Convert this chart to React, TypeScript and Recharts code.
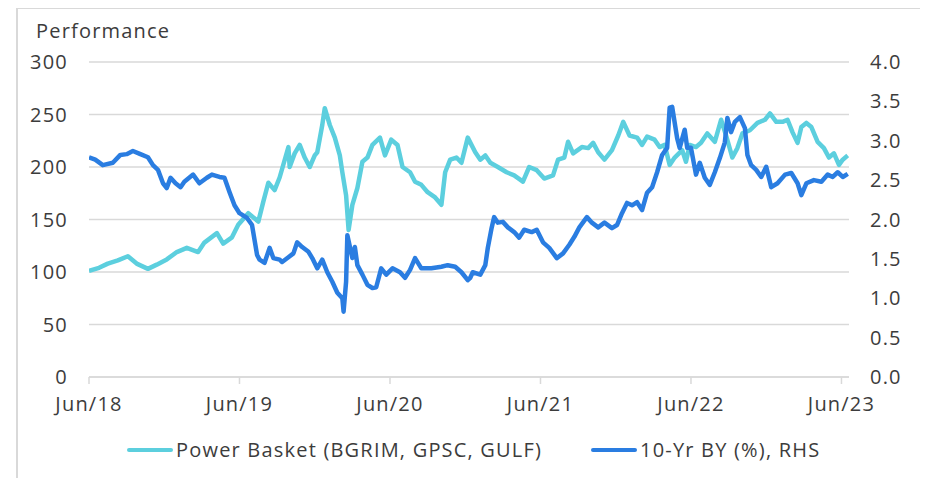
import { LineChart, Line, XAxis, YAxis, CartesianGrid } from "recharts";

// x positions are months since Jun-2018
const tickMonths = [0, 12, 24, 36, 48, 60];
const tickLabels = ["Jun/18", "Jun/19", "Jun/20", "Jun/21", "Jun/22", "Jun/23"];
const leftTicks = [0, 50, 100, 150, 200, 250, 300];
const rightTicks = [0, 0.5, 1, 1.5, 2, 2.5, 3, 3.5, 4];

const basketMonths = [
  0, 0.8, 1.5, 2.3, 3.1, 3.8, 4.7, 5.4, 6.2, 7.0, 7.8, 8.7, 9.2, 10.2, 10.7, 11.4, 11.9,
  12.7, 13.5, 13.9, 14.3, 14.8, 15.2, 15.9, 16.0, 16.4, 16.8, 17.2, 17.6, 18.0, 18.2,
  18.6, 18.8, 19.2, 19.6, 20.0, 20.2, 20.5, 20.7, 21.0, 21.4, 21.8, 22.2, 22.6, 23.2,
  23.6, 24.1, 24.6, 25.0, 25.6, 26.0, 26.5, 27.0, 27.6, 28.1, 28.4, 28.8, 29.3, 29.7,
  30.2, 30.8, 31.2, 31.6, 32.0, 32.6, 33.3, 33.9, 34.6, 35.1, 35.7, 36.3, 37.0, 37.4,
  37.9, 38.2, 38.6, 39.3, 39.8, 40.2, 40.6, 41.1, 41.7, 42.2, 42.6, 43.1, 43.7, 44.1,
  44.5, 45.1, 45.5, 45.9, 46.3, 46.7, 47.3, 47.6, 47.9, 48.4, 48.8, 49.3, 49.9, 50.4,
  50.8, 51.3, 51.7, 52.1, 52.7, 53.3, 53.9, 54.3, 54.8, 55.3, 55.7, 56.1, 56.5, 56.8,
  57.2, 57.6, 58.1, 58.6, 59.0, 59.4, 59.8, 60.1, 60.5,
];
const basketValues = [
  101, 104, 108, 111, 115, 108, 103, 107, 112, 119, 123, 119, 128, 137, 127, 133, 145,
  156, 148, 167, 185, 178, 190, 219, 200, 213, 221, 209, 200, 211, 214,
  240, 256, 240, 228, 211, 195, 173, 140, 164, 180, 205, 209, 221, 228,
  211, 226, 221, 200, 195, 186, 183, 176, 171, 164, 195, 207, 209, 204,
  228, 214, 207, 211, 204, 200, 195, 192, 186, 200, 197, 189, 192, 207,
  209, 224, 213, 219, 218, 223, 214, 207, 216, 230, 243, 230, 228, 221,
  229, 226, 219, 221, 202, 209, 216, 205, 221, 219, 223, 232, 224, 245,
  230, 209, 218, 232, 235, 242, 245, 251, 243, 243, 245, 233, 223, 238,
  242, 238, 224, 218, 209, 213, 202, 207, 211,
];

const yieldMonths = [
  0, 0.5, 1.1, 1.9, 2.5, 3.0, 3.5, 4.1, 4.7, 5.1, 5.5, 5.9, 6.2, 6.5, 6.9, 7.3, 7.6,
  8.3, 8.8, 9.4, 9.8, 10.4, 10.8, 11.2, 11.6, 12.0, 12.6, 13.0, 13.4, 13.6, 14.0, 14.4,
  14.7, 15.2, 15.4, 15.9, 16.3, 16.6, 17.0, 17.5, 17.8, 18.2, 18.6, 19.0, 19.4, 19.8,
  20.2, 20.3, 20.5, 20.6, 21.0, 21.2, 21.4, 21.8, 22.2, 22.6, 22.9, 23.3, 23.7, 24.2,
  24.8, 25.2, 25.6, 26.0, 26.5, 27.3, 28.1, 28.6, 29.2, 29.7, 30.2, 30.4, 30.6, 31.2,
  31.6, 31.8, 32.1, 32.3, 32.6, 33.0, 33.4, 33.9, 34.3, 34.7, 35.3, 35.7, 36.2, 36.7,
  37.3, 37.8, 38.3, 38.7, 39.1, 39.7, 40.1, 40.6, 41.1, 41.7, 42.1, 42.5, 42.9, 43.3,
  43.7, 44.1, 44.5, 44.9, 45.3, 45.7, 46.1, 46.3, 46.5, 46.9, 47.1, 47.5, 47.7, 48.0,
  48.4, 48.7, 49.1, 49.5, 49.9, 50.3, 50.7, 50.9, 51.2, 51.5, 51.9, 52.3, 52.5, 52.8,
  53.2, 53.6, 54.0, 54.4, 54.9, 55.5, 56.0, 56.5, 56.8, 57.2, 57.8, 58.4, 58.9, 59.3,
  59.7, 60.1, 60.5,
];
const yieldValues = [
  2.79, 2.76, 2.69, 2.72, 2.82, 2.83, 2.87, 2.83, 2.79, 2.69, 2.63, 2.46, 2.4, 2.53, 2.46, 2.41, 2.48,
  2.57, 2.46, 2.53, 2.57, 2.54, 2.53, 2.35, 2.18, 2.08, 2.02, 1.93, 1.55, 1.49, 1.45, 1.64,
  1.51, 1.49, 1.46, 1.52, 1.57, 1.71, 1.65, 1.59, 1.51, 1.38, 1.49, 1.33, 1.21, 1.07,
  1.0, 0.83, 1.21, 1.8, 1.51, 1.65, 1.42, 1.3, 1.17, 1.13, 1.14, 1.38, 1.3, 1.38,
  1.33, 1.26, 1.36, 1.51, 1.38, 1.38, 1.4, 1.42, 1.4, 1.33, 1.23, 1.26, 1.33, 1.3,
  1.42, 1.64, 1.89, 2.03, 1.96, 1.97, 1.9, 1.84, 1.77, 1.87, 1.84, 1.87, 1.71, 1.64,
  1.51, 1.57, 1.68, 1.78, 1.9, 2.03, 1.96, 1.9, 1.96, 1.89, 1.93, 2.08, 2.21, 2.18,
  2.22, 2.12, 2.34, 2.41, 2.6, 2.82, 2.91, 3.42, 3.43, 3.03, 2.91, 3.14, 2.91, 2.91,
  2.57, 2.72, 2.53, 2.44, 2.6, 2.78, 2.98, 3.29, 3.11, 3.24, 3.3, 3.16, 2.82, 2.69,
  2.63, 2.54, 2.67, 2.41, 2.46, 2.57, 2.59, 2.46, 2.31, 2.46, 2.5, 2.48, 2.57, 2.54,
  2.6, 2.54, 2.58,
];

const CYAN = "#5ccfde";
const BLUE = "#2a7de1";
const GRID = "#d9d9d9";
const TEXT = "#3c3c3c";
const FONT = "'Open Sans', sans-serif";

const basketData = basketMonths.map((m, i) => ({ m, v: basketValues[i] }));
const yieldData = yieldMonths.map((m, i) => ({ m, v: yieldValues[i] }));

function LegendItem({ color, label, left }: { color: string; label: string; left: number }) {
  return (
    <div style={{ position: "absolute", left, top: 436, display: "flex", alignItems: "center" }}>
      <div style={{ width: 46, height: 4, background: color, borderRadius: 2, marginRight: 3 }} />
      <span style={{ fontSize: 20, color: TEXT, whiteSpace: "nowrap" }}>{label}</span>
    </div>
  );
}

export default function App() {
  return (
    <div
      style={{
        position: "relative",
        left: -8,
        top: -8,
        width: 928,
        height: 478,
        overflow: "hidden",
        background: "#fff",
        fontFamily: FONT,
        letterSpacing: 1.2,
      }}
    >
      <div
        style={{
          position: "absolute",
          left: 16,
          top: 7,
          width: 905,
          height: 500,
          border: `2px solid ${GRID}`,
        }}
      />
      <div style={{ position: "absolute", left: 36, top: 17, fontSize: 20, color: TEXT }}>
        Performance
      </div>
      <div style={{ position: "absolute", left: 0, top: 0 }}>
        <LineChart width={928} height={478} margin={{ top: 62, right: 0, bottom: 61, left: 0 }}>
          <CartesianGrid yAxisId="left" vertical={false} stroke={GRID} strokeWidth={1.5} />
          <XAxis
            type="number"
            dataKey="m"
            domain={[0, 60.6]}
            ticks={tickMonths}
            tickFormatter={(m: number) => tickLabels[tickMonths.indexOf(m)]}
            height={40}
            axisLine={{ stroke: GRID, strokeWidth: 1.5 }}
            tickLine={{ stroke: GRID, strokeWidth: 1.5 }}
            tickSize={7}
            tickMargin={13}
            tick={{ fill: TEXT, fontSize: 20 }}
            allowDataOverflow
          />
          <YAxis
            yAxisId="left"
            domain={[0, 300]}
            ticks={leftTicks}
            width={89}
            axisLine={false}
            tickLine={false}
            tickSize={0}
            tickMargin={21}
            tick={{ fill: TEXT, fontSize: 20 }}
          />
          <YAxis
            yAxisId="right"
            orientation="right"
            domain={[0, 4]}
            ticks={rightTicks}
            width={79}
            axisLine={false}
            tickLine={false}
            tickSize={0}
            tickMargin={21}
            tickFormatter={(v: number) => v.toFixed(1)}
            tick={{ fill: TEXT, fontSize: 20, textAnchor: "start" }}
          />
          <Line
            yAxisId="left"
            data={basketData}
            dataKey="v"
            type="linear"
            stroke={CYAN}
            strokeWidth={4.5}
            dot={false}
            strokeLinejoin="round"
            isAnimationActive={false}
          />
          <Line
            yAxisId="right"
            data={yieldData}
            dataKey="v"
            type="linear"
            stroke={BLUE}
            strokeWidth={4.5}
            dot={false}
            strokeLinejoin="round"
            isAnimationActive={false}
          />
        </LineChart>
      </div>
      <LegendItem color={CYAN} label="Power Basket (BGRIM, GPSC, GULF)" left={127} />
      <LegendItem color={BLUE} label="10-Yr BY (%), RHS" left={591} />
    </div>
  );
}
